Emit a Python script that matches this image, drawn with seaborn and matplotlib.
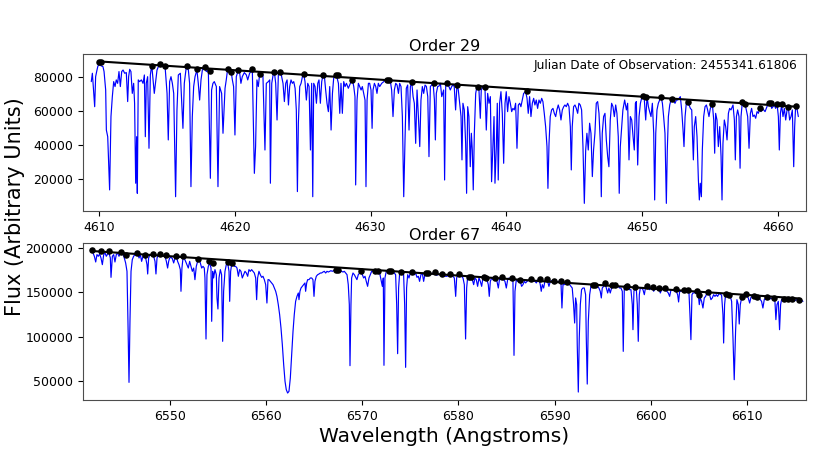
"""
Echelle spectrum: two orders with continuum points and a linear continuum fit.
"""

import matplotlib

matplotlib.use("Agg")
import matplotlib.pyplot as plt
import numpy as np
import seaborn as sns

# ──────────────────────────────────────────────────────────────
# Data
# ──────────────────────────────────────────────────────────────

julian_date = "2455341.61806"

# Order 29, in four wavelength chunks
wave_29a = [
    4609.43, 4609.51, 4609.68, 4609.75, 4609.85, 4609.92, 4610.05, 4610.17, 4610.29, 4610.37,
    4610.49, 4610.54, 4610.64, 4610.78, 4610.88, 4610.98, 4611.08, 4611.18, 4611.27, 4611.37,
    4611.47, 4611.57, 4611.67, 4611.77, 4611.89, 4612.01, 4612.11, 4612.18, 4612.26, 4612.35,
    4612.45, 4612.55, 4612.62, 4612.70, 4612.77, 4612.82, 4612.89, 4612.99, 4613.12, 4613.24,
    4613.34, 4613.41, 4613.48, 4613.58, 4613.68, 4613.78, 4613.88, 4614.07, 4614.27, 4614.42,
    4614.51, 4614.66, 4614.86, 4615.01, 4615.10, 4615.20, 4615.30, 4615.40, 4615.50, 4615.64,
    4615.74, 4615.84, 4615.99, 4616.18, 4616.28, 4616.43, 4616.58, 4616.67, 4616.77, 4616.87,
    4616.97, 4617.07, 4617.21, 4617.31, 4617.41, 4617.51, 4617.61, 4617.75, 4617.90, 4618.05,
    4618.20, 4618.29, 4618.39, 4618.49, 4618.64, 4618.76, 4618.88, 4619.03, 4619.13, 4619.28,
    4619.37, 4619.47, 4619.62, 4619.72, 4619.82, 4619.91, 4620.01, 4620.11, 4620.26, 4620.36,
    4620.45, 4620.55, 4620.70, 4620.85, 4620.95, 4621.09, 4621.29, 4621.44, 4621.53, 4621.63,
    4621.73, 4621.83, 4621.98, 4622.07, 4622.22, 4622.32,
]
flux_29a = [
    77100, 82000, 62400, 80000, 83900, 86300, 86900, 86300, 85900, 83000,
    72200, 48700, 44800, 13600, 56600, 68300, 77100, 74200, 78100, 76100,
    83000, 74200, 83000, 83900, 82000, 82400, 65400, 80000, 84300, 83000,
    70200, 76100, 64400, 17500, 44800, 11600, 78100, 77100, 78100, 76100,
    81000, 44800, 76100, 80000, 38000, 81000, 86900, 70200, 83900, 86900,
    86300, 85900, 86500, 70200, 42900, 77100, 80000, 76100, 70200, 9600,
    60500, 81000, 82000, 49700, 76100, 85900, 83900, 76100, 15500, 56600,
    74200, 80000, 83900, 76100, 66300, 78100, 83900, 85900, 83000, 83900,
    20400, 72200, 76100, 77100, 74200, 15500, 74200, 70200, 46800, 73200,
    78100, 84300, 83000, 83500, 78100, 74200, 45800, 80000, 83900, 82000,
    76100, 80000, 82400, 81000, 78100, 82000, 83900, 23300, 39000, 78100,
    74200, 81600, 80000, 81000, 37000, 76100,
]

wave_29b = [
    4622.47, 4622.57, 4622.62, 4622.72, 4622.82, 4622.91, 4623.01, 4623.11, 4623.21, 4623.36,
    4623.45, 4623.55, 4623.65, 4623.75, 4623.85, 4623.95, 4624.04, 4624.14, 4624.24, 4624.34,
    4624.44, 4624.53, 4624.61, 4624.68, 4624.78, 4624.88, 4624.98, 4625.07, 4625.17, 4625.27,
    4625.37, 4625.47, 4625.57, 4625.66, 4625.74, 4625.81, 4625.91, 4626.01, 4626.11, 4626.20,
    4626.30, 4626.40, 4626.50, 4626.60, 4626.69, 4626.79, 4626.89, 4626.99, 4627.09, 4627.19,
    4627.28, 4627.38, 4627.48, 4627.63, 4627.73, 4627.82, 4627.92, 4628.02, 4628.12, 4628.22,
    4628.36, 4628.51, 4628.66, 4628.76, 4628.85, 4628.90, 4629.00, 4629.10, 4629.20, 4629.30,
    4629.39, 4629.49, 4629.59, 4629.66, 4629.74, 4629.84, 4629.93, 4630.03, 4630.11, 4630.18,
    4630.28, 4630.38, 4630.47, 4630.57, 4630.67, 4630.82, 4630.97, 4631.06, 4631.21, 4631.36,
    4631.46, 4631.55, 4631.65, 4631.75, 4631.85, 4631.95, 4632.05, 4632.14, 4632.24, 4632.34,
    4632.44, 4632.54, 4632.63, 4632.73, 4632.83, 4632.93, 4633.03, 4633.13, 4633.22, 4633.32,
    4633.42, 4633.52, 4633.62, 4633.71, 4633.81, 4633.91, 4634.01, 4634.11, 4634.21, 4634.30,
    4634.40, 4634.50, 4634.60, 4634.70, 4634.77, 4634.84, 4634.94, 4635.04, 4635.14, 4635.24,
]
flux_29b = [
    77100, 78100, 17500, 76100, 81000, 83000, 76100, 54600, 82000, 83000,
    80000, 76100, 65400, 76100, 78100, 63400, 74200, 78100, 76100, 77100,
    73200, 60500, 12600, 52700, 74200, 76100, 80000, 81600, 77100, 66300,
    76100, 74200, 37000, 76100, 9600, 76100, 74200, 64400, 76100, 78100,
    64400, 77100, 81000, 80000, 72200, 64400, 59500, 74200, 48700, 70200,
    79000, 81000, 81000, 76100, 58500, 76100, 58500, 77100, 74200, 76100,
    73200, 76100, 78100, 74200, 68300, 16500, 66300, 76100, 74200, 72200,
    74200, 70200, 66300, 15500, 66300, 76100, 76100, 72200, 49700, 72200,
    76100, 74200, 70200, 76100, 74200, 76100, 77100, 78100, 78100, 78100,
    77100, 72200, 56600, 72200, 76100, 75100, 70200, 76100, 74200, 56600,
    9600, 44800, 73200, 75100, 48700, 74200, 76700, 68300, 64400, 40900,
    72200, 56600, 39000, 66300, 74200, 70200, 75100, 74200, 68300, 33100,
    74200, 75100, 76500, 66300, 42900, 70200, 74200, 74500, 76100, 68300,
]

wave_29c = [
    4635.38, 4635.45, 4635.53, 4635.62, 4635.77, 4635.87, 4635.97, 4636.07, 4636.16, 4636.26,
    4636.36, 4636.46, 4636.56, 4636.66, 4636.73, 4636.80, 4636.90, 4637.00, 4637.07, 4637.15,
    4637.24, 4637.34, 4637.42, 4637.49, 4637.56, 4637.64, 4637.74, 4637.83, 4637.98, 4638.08,
    4638.15, 4638.28, 4638.42, 4638.52, 4638.62, 4638.72, 4638.82, 4638.91, 4639.01, 4639.09,
    4639.16, 4639.26, 4639.33, 4639.40, 4639.50, 4639.60, 4639.70, 4639.80, 4639.90, 4639.99,
    4640.09, 4640.19, 4640.29, 4640.39, 4640.48, 4640.58, 4640.68, 4640.78, 4640.88, 4640.98,
    4641.07, 4641.17, 4641.27, 4641.42, 4641.52, 4641.61, 4641.71, 4641.81, 4641.91, 4642.01,
    4642.10, 4642.20, 4642.30, 4642.40, 4642.50, 4642.60, 4642.69, 4642.79, 4642.89, 4642.99,
    4643.06, 4643.14, 4643.23, 4643.33, 4643.43, 4643.53, 4643.63, 4643.72, 4643.82, 4643.92,
    4644.02, 4644.12, 4644.22, 4644.31, 4644.41, 4644.51, 4644.61, 4644.71, 4644.78, 4644.85,
    4644.95, 4645.05, 4645.15, 4645.25, 4645.34, 4645.44, 4645.54, 4645.64, 4645.74, 4645.84,
    4645.93, 4646.03, 4646.13, 4646.23, 4646.33, 4646.42, 4646.52, 4646.62, 4646.72, 4646.82,
    4646.92, 4646.99, 4647.06, 4647.16, 4647.26, 4647.36, 4647.46, 4647.55, 4647.65, 4647.75,
    4647.85, 4647.95, 4648.05, 4648.14, 4648.24, 4648.31, 4648.39, 4648.49, 4648.58,
]
flux_29c = [
    72200, 19400, 74200, 76100, 74200, 72200, 74200, 75100, 74200, 60500,
    75100, 72200, 64400, 56600, 31200, 64400, 60500, 40900, 11600, 62400,
    56600, 27200, 46800, 37000, 13600, 46800, 70200, 74200, 72200, 55600,
    72200, 74200, 74200, 48700, 70200, 64400, 68300, 18400, 39000, 56600,
    17500, 39000, 64400, 19400, 64400, 71200, 58500, 29200, 64400, 71200,
    59500, 68300, 64400, 59500, 61400, 60500, 64400, 38000, 63400, 64400,
    62400, 66300, 70200, 71200, 67300, 58500, 68300, 56600, 64400, 67300,
    63400, 66300, 61400, 66300, 64400, 67300, 65400, 58500, 50700, 39000,
    14500, 40900, 56600, 60500, 61400, 58500, 56600, 60500, 63400, 60500,
    54600, 60500, 62400, 63400, 62400, 64400, 62400, 50700, 25300, 50700,
    62400, 63400, 61400, 58500, 64400, 63400, 60500, 39000, 5700, 37000,
    46800, 37000, 52700, 46800, 21400, 37000, 46800, 64400, 65400, 58500,
    40900, 9600, 46800, 56600, 58500, 42900, 33100, 27200, 54600, 64400,
    62400, 56600, 63400, 58500, 44800, 11600, 39000, 50700, 60500,
]

wave_29d = [
    4648.71, 4648.84, 4648.93, 4649.03, 4649.13, 4649.23, 4649.33, 4649.42, 4649.50, 4649.57,
    4649.67, 4649.77, 4649.87, 4649.96, 4650.06, 4650.16, 4650.26, 4650.36, 4650.46, 4650.55,
    4650.65, 4650.75, 4650.85, 4650.92, 4651.00, 4651.09, 4651.19, 4651.29, 4651.39, 4651.49,
    4651.58, 4651.68, 4651.78, 4651.85, 4651.93, 4652.03, 4652.12, 4652.22, 4652.32, 4652.42,
    4652.52, 4652.62, 4652.71, 4652.81, 4652.91, 4653.01, 4653.08, 4653.16, 4653.25, 4653.35,
    4653.45, 4653.55, 4653.65, 4653.70, 4653.77, 4653.84, 4653.94, 4654.04, 4654.14, 4654.21,
    4654.28, 4654.36, 4654.43, 4654.53, 4654.63, 4654.73, 4654.82, 4654.92, 4655.02, 4655.17,
    4655.27, 4655.34, 4655.41, 4655.51, 4655.61, 4655.71, 4655.81, 4655.88, 4655.95, 4656.05,
    4656.15, 4656.25, 4656.35, 4656.44, 4656.54, 4656.69, 4656.79, 4656.86, 4656.94, 4657.03,
    4657.13, 4657.21, 4657.28, 4657.38, 4657.48, 4657.57, 4657.67, 4657.77, 4657.87, 4657.97,
    4658.06, 4658.16, 4658.26, 4658.36, 4658.46, 4658.56, 4658.65, 4658.75, 4658.85, 4658.95,
    4659.05, 4659.14, 4659.24, 4659.34, 4659.44, 4659.54, 4659.64, 4659.73, 4659.83, 4659.93,
    4660.03, 4660.10, 4660.18, 4660.27, 4660.37, 4660.47, 4660.57, 4660.67, 4660.76, 4660.86,
    4660.96, 4661.06, 4661.16, 4661.23, 4661.30, 4661.40, 4661.50,
]
flux_29d = [
    66300, 60500, 64400, 31200, 56600, 54600, 44800, 37000, 64400, 65400,
    28200, 56600, 64400, 67300, 68700, 66300, 54600, 68300, 62400, 59500,
    56600, 64400, 46800, 7700, 46800, 60500, 64400, 66300, 68300, 64400,
    56600, 46800, 5700, 37000, 56600, 63400, 66300, 66700, 65400, 64400,
    66300, 66300, 67300, 68300, 60500, 48700, 39000, 56600, 64400, 65400,
    63400, 61400, 60500, 46800, 31200, 50700, 56600, 44800, 19400, 7700,
    17500, 9600, 37000, 56600, 62400, 63400, 60500, 56600, 61400, 63800,
    54600, 35100, 58500, 54600, 39000, 50700, 33100, 7700, 40900, 54600,
    50700, 42900, 58500, 61400, 60500, 63400, 54600, 31200, 56600, 60500,
    56600, 26300, 56600, 65400, 64400, 64000, 60500, 56600, 38000, 58500,
    61400, 56600, 57500, 55600, 59500, 58500, 61400, 59500, 61400, 60500,
    59500, 61400, 63400, 64400, 64400, 61400, 62400, 63400, 61400, 64400,
    56600, 37000, 58500, 63400, 56600, 61400, 54600, 60500, 62400, 54600,
    56600, 60500, 27200, 50700, 62400, 61400, 56600,
]

# Order 29 continuum points
cont_wave_29 = [
    4610.00, 4610.17, 4613.93, 4614.47, 4614.86, 4616.48, 4617.21, 4617.80, 4618.15, 4619.47,
    4619.72, 4620.26, 4621.29, 4621.83, 4622.91, 4623.36, 4625.07, 4626.50, 4627.43, 4627.58,
    4628.66, 4631.21, 4631.36, 4633.03, 4634.65, 4635.65, 4636.39, 4637.91, 4638.42, 4641.52,
    4650.06, 4650.31, 4651.39, 4652.22, 4653.35, 4655.17, 4657.33, 4657.57, 4658.65, 4659.34,
    4659.49, 4659.93, 4660.32, 4660.72, 4661.30,
]
cont_flux_29 = [
    88400, 88400, 86500, 87500, 86500, 86500, 84300, 85500, 83500, 84300,
    83000, 83900, 84300, 81600, 82800, 82800, 81400, 81000, 81000, 81000,
    78100, 78100, 78100, 76700, 76500, 76100, 75300, 73800, 73800, 71800,
    68700, 68300, 67900, 66700, 65400, 63800, 65400, 64000, 61500, 64400,
    64400, 64000, 64000, 62400, 62800,
]

# Order 67, in four wavelength chunks
wave_67a = [
    6541.96, 6542.03, 6542.17, 6542.31, 6542.44, 6542.58, 6542.72, 6542.86, 6543.00, 6543.14,
    6543.28, 6543.41, 6543.55, 6543.69, 6543.83, 6543.90, 6544.04, 6544.18, 6544.31, 6544.45,
    6544.59, 6544.73, 6544.87, 6545.01, 6545.14, 6545.28, 6545.42, 6545.56, 6545.66, 6545.77,
    6545.87, 6545.98, 6546.11, 6546.25, 6546.39, 6546.53, 6546.67, 6546.81, 6546.95, 6547.08,
    6547.22, 6547.36, 6547.50, 6547.64, 6547.71, 6547.81, 6547.92, 6548.05, 6548.19, 6548.33,
    6548.47, 6548.57, 6548.68, 6548.82, 6548.95, 6549.09, 6549.23, 6549.37, 6549.51, 6549.65,
    6549.78, 6549.89, 6549.99, 6550.13, 6550.27, 6550.41, 6550.55, 6550.69, 6550.82, 6550.96,
    6551.10, 6551.17, 6551.27, 6551.38, 6551.52, 6551.65, 6551.79, 6551.93, 6552.07, 6552.21,
    6552.35, 6552.49, 6552.62, 6552.76, 6552.90, 6553.04, 6553.18, 6553.32, 6553.46, 6553.59,
    6553.66, 6553.77, 6553.87, 6554.01, 6554.15, 6554.29, 6554.36, 6554.46, 6554.56, 6554.70,
    6554.84, 6554.91, 6555.01, 6555.12, 6555.26, 6555.39, 6555.50, 6555.60, 6555.74, 6555.88,
    6556.02, 6556.16, 6556.23, 6556.33, 6556.43, 6556.57, 6556.71, 6556.85, 6556.99, 6557.13,
    6557.26, 6557.40, 6557.54, 6557.68, 6557.82, 6557.96, 6558.10, 6558.23, 6558.37, 6558.51,
    6558.65, 6558.79, 6558.93, 6559.03, 6559.13, 6559.27, 6559.41, 6559.55, 6559.69, 6559.83,
    6559.97, 6560.10,
]
flux_67a = [
    196700, 194000, 190300, 183900, 192200, 190300, 192900, 188400, 180900, 192200,
    194000, 190300, 192900, 194000, 188400, 166600, 190300, 192200, 183900, 192200,
    194000, 190300, 194000, 195200, 192900, 188400, 182800, 173400, 117100, 48400,
    117100, 173400, 186500, 190300, 192200, 193300, 194000, 188400, 192200, 184600,
    190300, 191400, 188400, 180900, 170400, 188400, 191400, 192200, 192900, 190300,
    184600, 170400, 188400, 192200, 192200, 190300, 191400, 190300, 190300, 184600,
    177100, 184600, 188400, 189100, 187700, 182800, 188400, 190300, 184600, 180900,
    175300, 150900, 177100, 188400, 187700, 184600, 180900, 177100, 184600, 179000,
    173400, 177100, 164000, 179000, 184600, 186500, 182800, 177100, 179000, 177100,
    165900, 97200, 169600, 179000, 182800, 177100, 117100, 173400, 165900, 175300,
    169600, 143400, 131000, 165900, 175300, 169600, 94600, 150900, 173400, 180900,
    182800, 173400, 139600, 173400, 180900, 182800, 179000, 179000, 177100, 167800,
    175300, 173400, 165900, 169600, 173400, 171500, 167800, 175300, 173400, 175300,
    173400, 171500, 165900, 141500, 165900, 173400, 169600, 166600, 167800, 164000,
    158400, 137700,
]

wave_67b = [
    6560.21, 6560.31, 6560.45, 6560.59, 6560.73, 6560.87, 6561.01, 6561.14, 6561.28, 6561.42,
    6561.56, 6561.70, 6561.84, 6561.98, 6562.11, 6562.25, 6562.39, 6562.53, 6562.67, 6562.81,
    6562.94, 6563.08, 6563.22, 6563.36, 6563.43, 6563.53, 6563.64, 6563.78, 6563.91, 6564.05,
    6564.12, 6564.23, 6564.33, 6564.47, 6564.61, 6564.75, 6564.88, 6564.99, 6565.09, 6565.23,
    6565.37, 6565.51, 6565.65, 6565.78, 6565.92, 6566.06, 6566.20, 6566.34, 6566.48, 6566.62,
    6566.75, 6566.89, 6567.03, 6567.17, 6567.31, 6567.45, 6567.58, 6567.72, 6567.86, 6568.00,
    6568.14, 6568.28, 6568.42, 6568.55, 6568.66, 6568.73, 6568.83, 6568.90, 6569.04, 6569.18,
    6569.32, 6569.45, 6569.59, 6569.73, 6569.87, 6570.01, 6570.15, 6570.29, 6570.42, 6570.56,
    6570.70, 6570.84, 6570.98, 6571.12, 6571.25, 6571.39, 6571.53, 6571.67, 6571.81, 6571.95,
    6572.09, 6572.19, 6572.26, 6572.36, 6572.50, 6572.64, 6572.78, 6572.92, 6573.06, 6573.19,
    6573.33, 6573.47, 6573.58, 6573.68, 6573.78, 6573.89, 6574.02, 6574.16, 6574.30, 6574.41,
    6574.51, 6574.61, 6574.72, 6574.86, 6574.99, 6575.13, 6575.27, 6575.41, 6575.55, 6575.69,
    6575.83, 6575.96, 6576.10, 6576.24, 6576.38, 6576.52, 6576.66, 6576.80, 6576.93, 6577.07,
    6577.21, 6577.35, 6577.49, 6577.63, 6577.76, 6577.90, 6578.04, 6578.18, 6578.32, 6578.46,
    6578.60,
]
flux_67b = [
    164000, 164000, 162100, 160300, 158400, 154600, 150900, 145200, 135900, 124600,
    109600, 90800, 68300, 49500, 40200, 36400, 38300, 53300, 79600, 105800,
    124600, 139600, 145200, 149000, 141500, 150900, 154600, 156500, 158400, 160300,
    150900, 160300, 164000, 164000, 165900, 165900, 164000, 145200, 162100, 167800,
    169600, 170400, 171500, 171500, 172600, 173400, 171500, 173400, 172600, 173400,
    174100, 173400, 174100, 174500, 175300, 174100, 173400, 174100, 173400, 172600,
    173400, 171500, 169600, 158400, 135900, 67200, 135900, 165900, 171500, 169600,
    166600, 164000, 169600, 171500, 173400, 169600, 165900, 167800, 162100, 156500,
    165900, 169600, 173400, 173400, 174100, 174100, 174100, 173400, 171500, 164000,
    156500, 165900, 67600, 165900, 173400, 173400, 174100, 174100, 173400, 173400,
    171500, 169600, 135900, 80700, 154600, 171500, 172600, 171500, 169600, 135900,
    65300, 154600, 169600, 165900, 171500, 173400, 173400, 169600, 171500, 166600,
    167800, 162100, 169600, 171500, 162100, 170400, 172300, 171500, 169600, 170400,
    170400, 171500, 172300, 169600, 168900, 170400, 169600, 169600, 167800, 168900,
    167800,
]

wave_67c = [
    6578.81, 6578.94, 6579.15, 6579.29, 6579.43, 6579.57, 6579.71, 6579.81, 6579.91, 6580.05,
    6580.19, 6580.33, 6580.47, 6580.61, 6580.74, 6580.85, 6580.95, 6581.16, 6581.30, 6581.44,
    6581.58, 6581.71, 6581.85, 6581.99, 6582.13, 6582.27, 6582.41, 6582.55, 6582.68, 6582.82,
    6582.96, 6583.10, 6583.20, 6583.31, 6583.45, 6583.58, 6583.72, 6583.86, 6584.00, 6584.14,
    6584.28, 6584.41, 6584.55, 6584.69, 6584.83, 6584.97, 6585.11, 6585.25, 6585.38, 6585.52,
    6585.66, 6585.77, 6585.87, 6586.01, 6586.15, 6586.28, 6586.42, 6586.56, 6586.70, 6586.84,
    6586.98, 6587.12, 6587.25, 6587.46, 6587.67, 6587.81, 6587.95, 6588.09, 6588.22, 6588.36,
    6588.50, 6588.60, 6588.71, 6588.85, 6588.99, 6589.12, 6589.26, 6589.40, 6589.54, 6589.68,
    6589.82, 6590.02, 6590.23, 6590.44, 6590.65, 6590.75, 6590.86, 6590.99, 6591.13, 6591.27,
    6591.41, 6591.55, 6591.69, 6591.82, 6591.96, 6592.07, 6592.17, 6592.28, 6592.34, 6592.45,
    6592.55, 6592.66, 6592.79, 6592.93, 6593.07, 6593.21, 6593.28, 6593.38, 6593.49, 6593.63,
    6593.76, 6593.90, 6594.04, 6594.18, 6594.32, 6594.46, 6594.59, 6594.73, 6594.84, 6594.94,
    6595.08, 6595.22, 6595.36, 6595.50, 6595.63, 6595.77, 6595.91, 6596.05, 6596.19, 6596.33,
    6596.46, 6596.60, 6596.74, 6596.88, 6597.02, 6597.12,
]
flux_67c = [
    167800, 168900, 170400, 169600, 167800, 165900, 145200, 165900, 168900, 170400,
    169600, 167800, 165900, 158400, 97200, 154600, 166600, 166600, 165900, 164000,
    158400, 165900, 164000, 156500, 165900, 162100, 156500, 166600, 166600, 165900,
    164000, 158400, 145200, 162100, 165900, 164000, 165900, 164000, 162100, 154600,
    165900, 164000, 166600, 164000, 162100, 154600, 164000, 165900, 164000, 165900,
    162100, 78800, 150900, 164000, 162100, 164000, 162100, 156500, 158400, 162100,
    160300, 162100, 162900, 164000, 162900, 162100, 162100, 160300, 162900, 165100,
    158400, 150900, 158400, 154600, 162900, 164000, 162100, 156500, 162100, 162900,
    162100, 162100, 161400, 162100, 160300, 132100, 158400, 158400, 160300, 160300,
    160300, 158400, 156500, 154600, 135900, 115200, 143400, 135900, 90800, 37500,
    98300, 135900, 152800, 154600, 154600, 147100, 98300, 46500, 117100, 147100,
    156500, 158400, 158400, 158400, 156500, 156500, 154600, 150900, 143400, 154600,
    156500, 160300, 154600, 149000, 154600, 149000, 154600, 157600, 157600, 156500,
    157600, 156500, 154600, 154600, 150900, 83300,
]

wave_67d = [
    6597.23, 6597.37, 6597.51, 6597.64, 6597.78, 6597.92, 6598.06, 6598.13, 6598.23, 6598.34,
    6598.48, 6598.58, 6598.68, 6598.79, 6598.89, 6599.03, 6599.17, 6599.31, 6599.44, 6599.58,
    6599.72, 6599.86, 6600.00, 6600.14, 6600.28, 6600.41, 6600.55, 6600.69, 6600.83, 6600.97,
    6601.11, 6601.25, 6601.38, 6601.52, 6601.66, 6601.80, 6601.94, 6602.08, 6602.21, 6602.35,
    6602.49, 6602.63, 6602.77, 6602.87, 6602.98, 6603.11, 6603.25, 6603.39, 6603.53, 6603.67,
    6603.81, 6603.95, 6604.05, 6604.15, 6604.26, 6604.36, 6604.50, 6604.64, 6604.78, 6604.92,
    6605.02, 6605.12, 6605.26, 6605.40, 6605.54, 6605.68, 6605.82, 6605.95, 6606.09, 6606.23,
    6606.37, 6606.51, 6606.65, 6606.79, 6606.92, 6607.06, 6607.20, 6607.34, 6607.48, 6607.55,
    6607.65, 6607.75, 6607.89, 6608.10, 6608.24, 6608.38, 6608.52, 6608.65, 6608.79, 6608.93,
    6609.07, 6609.17, 6609.28, 6609.42, 6609.56, 6609.69, 6609.83, 6609.97, 6610.11, 6610.25,
    6610.39, 6610.52, 6610.66, 6610.80, 6610.94, 6611.08, 6611.22, 6611.36, 6611.49, 6611.63,
    6611.77, 6611.91, 6612.05, 6612.19, 6612.33, 6612.46, 6612.60, 6612.74, 6612.88, 6612.98,
    6613.09, 6613.23, 6613.36, 6613.47, 6613.57, 6613.71, 6613.85, 6613.99, 6614.13, 6614.26,
    6614.40, 6614.54, 6614.68, 6614.82, 6614.96, 6615.10, 6615.23, 6615.37, 6615.51, 6615.65,
    6615.79,
]
flux_67d = [
    154600, 155400, 156500, 154600, 152700, 152700, 135900, 107700, 150900, 155400,
    152700, 135900, 94600, 147100, 154600, 154600, 152700, 147100, 155400, 156500,
    154600, 152700, 154600, 155400, 150900, 153900, 154600, 152700, 154600, 149000,
    152700, 154600, 154600, 152700, 150900, 149000, 145200, 152700, 152700, 151600,
    153900, 150900, 147100, 138900, 150900, 150900, 151600, 152700, 151600, 150900,
    151600, 149000, 124600, 96500, 147100, 149000, 149000, 150900, 151600, 147100,
    135900, 143400, 139600, 132100, 143400, 145200, 149000, 150100, 147100, 141500,
    143400, 147100, 145200, 147100, 145200, 147900, 147900, 146400, 124600, 92700,
    135900, 147100, 147900, 147100, 145200, 139600, 98300, 51400, 105800, 141500,
    135900, 114100, 135900, 143400, 144100, 145200, 147100, 145200, 143400, 137700,
    144100, 145200, 145200, 144100, 144100, 143400, 144100, 141500, 139600, 132100,
    141500, 143400, 145200, 143400, 142600, 142600, 143400, 142600, 139600, 119000,
    135900, 139600, 107700, 135900, 141500, 142600, 142600, 140400, 141500, 139600,
    141500, 140400, 141500, 140700, 140400, 141500, 141100, 141500, 141500, 140700,
    139600,
]

# Order 67 continuum points
cont_wave_67 = [
    6541.96, 6542.86, 6543.69, 6544.97, 6545.42, 6546.63, 6547.46, 6548.26, 6549.02, 6549.65,
    6550.62, 6551.38, 6552.90, 6554.08, 6554.53, 6556.02, 6556.50, 6567.24, 6567.45, 6569.87,
    6571.29, 6571.64, 6572.78, 6572.99, 6574.02, 6575.20, 6576.66, 6576.86, 6577.56, 6578.25,
    6579.15, 6580.05, 6581.09, 6581.30, 6582.61, 6582.89, 6583.76, 6584.55, 6585.56, 6586.35,
    6587.57, 6588.43, 6589.23, 6589.92, 6590.61, 6591.31, 6593.97, 6594.18, 6595.22, 6595.98,
    6596.26, 6597.43, 6597.51, 6598.34, 6599.58, 6600.21, 6600.83, 6601.45, 6602.56, 6603.39,
    6603.81, 6604.78, 6604.98, 6605.88, 6607.82, 6608.10, 6609.42, 6609.90, 6610.73, 6611.01,
    6612.05, 6612.74, 6613.85, 6614.26, 6614.61, 6615.37,
]
cont_flux_67 = [
    197800, 195900, 195900, 194800, 192200, 194000, 191400, 193300, 192500, 191400,
    191000, 190300, 187300, 185400, 182800, 183500, 182400, 174500, 174900, 173400,
    174100, 173800, 174100, 174100, 172600, 172600, 171900, 171500, 172300, 170800,
    170400, 170400, 167000, 166600, 166600, 165900, 165900, 167000, 165900, 163300,
    164400, 165100, 164400, 162900, 162100, 161000, 158400, 158400, 159900, 157600,
    157600, 155400, 156500, 155400, 156500, 155400, 154600, 154600, 153900, 152700,
    152000, 151600, 146400, 150100, 147900, 147100, 144100, 147900, 145200, 144900,
    144500, 143400, 142600, 142200, 141900, 141100,
]

# ──────────────────────────────────────────────────────────────
# Style configuration
# ──────────────────────────────────────────────────────────────

sns.set_style("ticks")
plt.rcParams["font.family"] = ["DejaVu Sans"]
plt.rcParams["axes.edgecolor"] = "0.3"
plt.rcParams["axes.linewidth"] = 0.8
for key in ("text.color", "axes.labelcolor", "xtick.color", "ytick.color"):
    plt.rcParams[key] = "black"


def plot_order(ax, wave, flux, cont_wave, cont_flux, title, xlim, ylim):
    """Spectrum in blue, continuum points and a straight-line fit in black."""
    sns.lineplot(x=wave, y=flux, ax=ax, color="blue", linewidth=0.85,
                 estimator=None, sort=False)

    # Linear continuum fit through the picked points
    coef = np.polyfit(cont_wave, cont_flux, 1)
    fit_x = np.array([min(cont_wave), max(cont_wave)])
    sns.lineplot(x=fit_x, y=np.polyval(coef, fit_x), ax=ax, color="black",
                 linewidth=1.5, estimator=None, sort=False)
    sns.scatterplot(x=cont_wave, y=cont_flux, ax=ax, color="black", s=22,
                    linewidth=0, zorder=3)

    ax.set_xlim(*xlim)
    ax.set_ylim(*ylim)
    ax.set_title(title, fontsize=11.5, pad=2)
    ax.set_xlabel("")
    ax.set_ylabel("")
    ax.tick_params(labelsize=9, length=3.5, width=0.8)


fig, (ax_top, ax_bot) = plt.subplots(2, 1, figsize=(8.3, 4.5), dpi=100)
fig.subplots_adjust(left=0.1, right=0.971, bottom=0.111, top=0.88, hspace=0.203)

plot_order(
    ax_top,
    wave_29a + wave_29b + wave_29c + wave_29d,
    flux_29a + flux_29b + flux_29c + flux_29d,
    cont_wave_29, cont_flux_29,
    "Order 29", (4608.82, 4662.06), (1170, 93300),
)
plot_order(
    ax_bot,
    wave_67a + wave_67b + wave_67c + wave_67d,
    flux_67a + flux_67b + flux_67c + flux_67d,
    cont_wave_67, cont_flux_67,
    "Order 67", (6540.99, 6616.10), (28500, 205300),
)

ax_top.text(0.988, 0.965, f"Julian Date of Observation: {julian_date}",
            transform=ax_top.transAxes, ha="right", va="top", fontsize=8.7)
ax_bot.set_xlabel("Wavelength (Angstroms)", fontsize=14.5, labelpad=3)
fig.text(0.018, 0.54, "Flux (Arbitrary Units)", rotation=90,
         ha="center", va="center", fontsize=15)

fig.savefig("out.png", dpi=100)
